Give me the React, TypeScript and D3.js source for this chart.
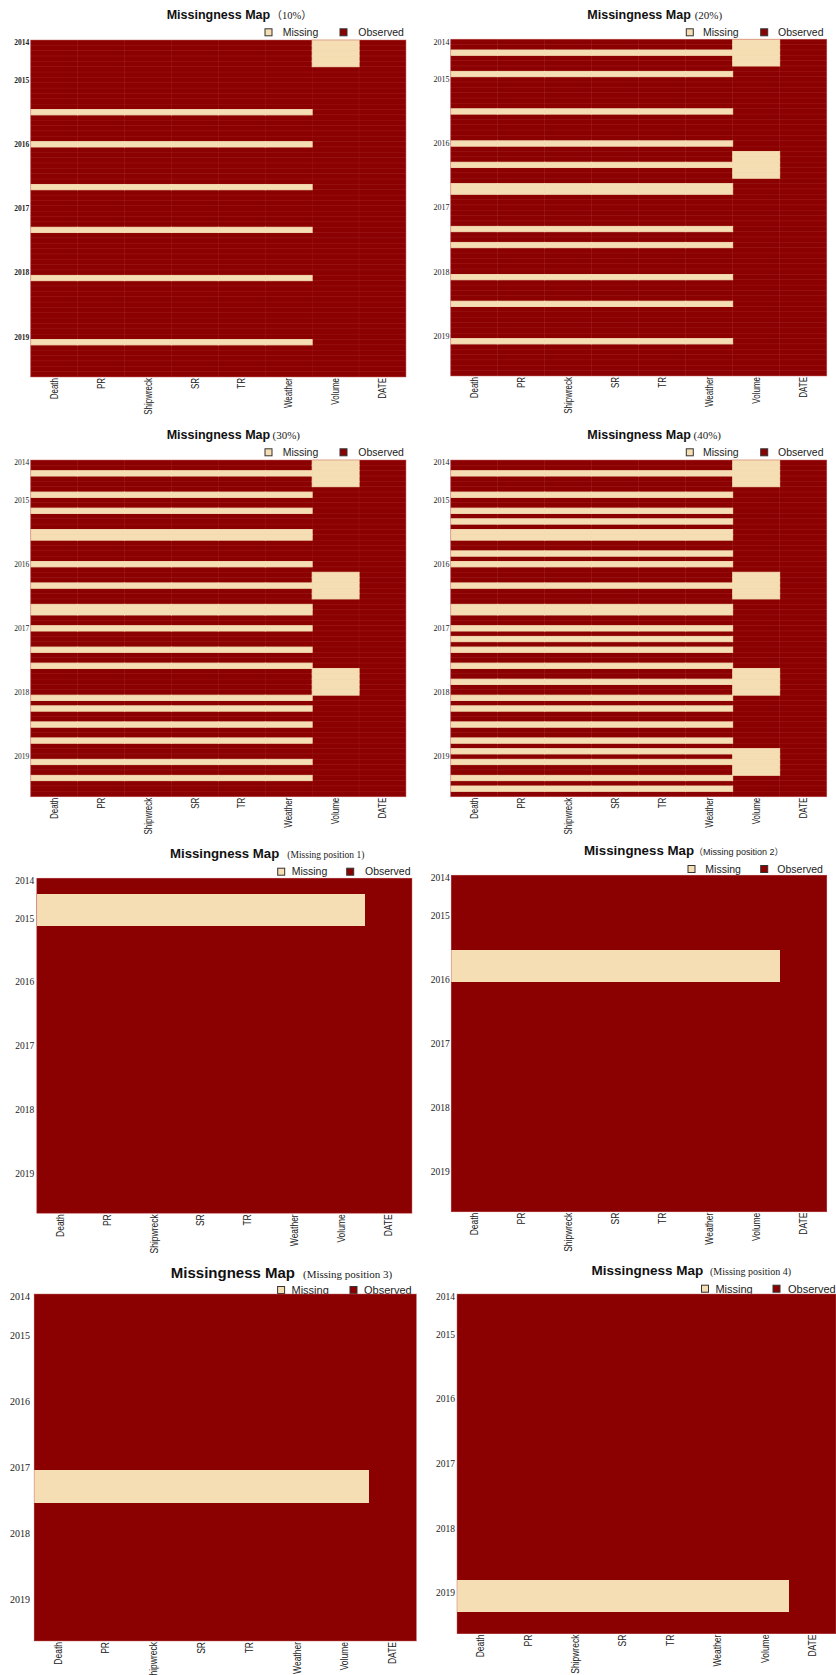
import React from "react";
import * as d3 from "d3";

// Variables (columns) and the monthly row index (Jun 2014 – Aug 2019)
const VARIABLES = ["Death", "PR", "Shipwreck", "SR", "TR", "Weather", "Volume", "DATE"];
const ROW_VARS = ["Death", "PR", "Shipwreck", "SR", "TR", "Weather"];
const BLOCK_VARS = ["Death", "PR", "Shipwreck", "SR", "TR", "Weather", "Volume"];
const VOLUME_VAR = ["Volume"];
const ROW_COUNT = 63;
const YEAR_LABELS = ["2014", "2015", "2016", "2017", "2018", "2019"];
const YEAR_FIRST_ROW = [0, 7, 19, 31, 43, 55];

// Missing rows for the random-missingness scenarios
const MISS10_ROWS = [13, 19, 27, 35, 44, 56];
const MISS10_VOLUME = [0, 1, 2, 3, 4];
const MISS20_ROWS = [2, 6, 13, 19, 23, 27, 28, 35, 38, 44, 49, 56];
const MISS20_VOLUME = [0, 1, 2, 3, 4, 21, 22, 23, 24, 25];
const MISS30_ROWS = [2, 6, 9, 13, 14, 19, 23, 27, 28, 31, 35, 38, 44, 46, 49, 52, 56, 59];
const MISS30_VOLUME = [0, 1, 2, 3, 4, 21, 22, 23, 24, 25, 39, 40, 41, 42, 43];
const MISS40_ROWS = [2, 6, 9, 11, 13, 14, 17, 19, 23, 27, 28, 31, 33, 35, 38, 41, 44, 46, 49, 52, 54, 56, 59, 61];
const MISS40_VOLUME = [0, 1, 2, 3, 4, 21, 22, 23, 24, 25, 39, 40, 41, 42, 43, 54, 55, 56, 57, 58];

// Missing rows for the contiguous-block scenarios
const POS1_ROWS = [3, 4, 5, 6, 7, 8];
const POS2_ROWS = [14, 15, 16, 17, 18, 19];
const POS3_ROWS = [32, 33, 34, 35, 36, 37];
const POS4_ROWS = [53, 54, 55, 56, 57, 58];

const MISSING_COLOR = "#F5DEB3";
const OBSERVED_COLOR = "#8B0000";

type Group = { rows: number[]; cols: string[] };

type Layout = {
  x0: number; x1: number; y0: number; y1: number;
  titleX: number; titleY: number; titleSize: number;
  sub: string; subX: number; subSize: number; subFont: string;
  legendY: number; legendX: number[]; legendSize: number;
  yearRight: number; yearSize: number; yearWeight: number;
  xLabelSize: number; xLabelStretch: number; seams: boolean;
};

const SERIF = "'Liberation Serif', 'Noto Sans CJK SC', serif";
const SANS = "'Liberation Sans', Arial, 'Noto Sans CJK SC', sans-serif";

const PANELS: { groups: Group[]; layout: Layout }[] = [
  {
    groups: [{ rows: MISS10_ROWS, cols: ROW_VARS }, { rows: MISS10_VOLUME, cols: VOLUME_VAR }],
    layout: {
      x0: 30.7, x1: 406, y0: 40, y1: 377,
      titleX: 166.7, titleY: 18.5, titleSize: 12.5,
      sub: "（10%）", subX: 271.5, subSize: 10.5, subFont: SERIF,
      legendY: 32.3, legendX: [265, 282.7, 340, 358.3], legendSize: 10.5,
      yearRight: 29.3, yearSize: 7.5, yearWeight: 700, xLabelSize: 8, xLabelStretch: 1.3, seams: true,
    },
  },
  {
    groups: [{ rows: MISS20_ROWS, cols: ROW_VARS }, { rows: MISS20_VOLUME, cols: VOLUME_VAR }],
    layout: {
      x0: 450.7, x1: 826.7, y0: 39.3, y1: 376,
      titleX: 587.3, titleY: 18.5, titleSize: 12.5,
      sub: "(20%)", subX: 694.7, subSize: 11, subFont: SERIF,
      legendY: 32.3, legendX: [686.3, 703, 760.7, 778], legendSize: 10.5,
      yearRight: 449.5, yearSize: 8, yearWeight: 400, xLabelSize: 8, xLabelStretch: 1.3, seams: true,
    },
  },
  {
    groups: [{ rows: MISS30_ROWS, cols: ROW_VARS }, { rows: MISS30_VOLUME, cols: VOLUME_VAR }],
    layout: {
      x0: 30.7, x1: 406, y0: 460, y1: 796.7,
      titleX: 166.7, titleY: 438.5, titleSize: 12.5,
      sub: "(30%)", subX: 272.5, subSize: 11, subFont: SERIF,
      legendY: 452.3, legendX: [265, 282.7, 340, 358.3], legendSize: 10.5,
      yearRight: 29.3, yearSize: 7.5, yearWeight: 400, xLabelSize: 8, xLabelStretch: 1.3, seams: true,
    },
  },
  {
    groups: [{ rows: MISS40_ROWS, cols: ROW_VARS }, { rows: MISS40_VOLUME, cols: VOLUME_VAR }],
    layout: {
      x0: 450.7, x1: 826.7, y0: 460, y1: 796.7,
      titleX: 587.3, titleY: 438.5, titleSize: 12.5,
      sub: "(40%)", subX: 693.5, subSize: 11, subFont: SERIF,
      legendY: 452.3, legendX: [686.3, 703, 760.7, 778], legendSize: 10.5,
      yearRight: 449.5, yearSize: 8, yearWeight: 400, xLabelSize: 8, xLabelStretch: 1.3, seams: true,
    },
  },
  {
    groups: [{ rows: POS1_ROWS, cols: BLOCK_VARS }],
    layout: {
      x0: 36.7, x1: 412, y0: 878.3, y1: 1213.3,
      titleX: 170, titleY: 858, titleSize: 13.2,
      sub: "(Missing position 1)", subX: 287.3, subSize: 9.5, subFont: SERIF,
      legendY: 871.7, legendX: [277.7, 291.7, 346.7, 365], legendSize: 10.5,
      yearRight: 34.3, yearSize: 9.5, yearWeight: 400, xLabelSize: 8.5, xLabelStretch: 1.2, seams: false,
    },
  },
  {
    groups: [{ rows: POS2_ROWS, cols: BLOCK_VARS }],
    layout: {
      x0: 451.3, x1: 826.7, y0: 875.3, y1: 1211.7,
      titleX: 584, titleY: 855.3, titleSize: 13.3,
      sub: "（Missing position 2）", subX: 694, subSize: 9, subFont: SANS,
      legendY: 869, legendX: [688, 705.3, 760.7, 777.3], legendSize: 10.5,
      yearRight: 449.7, yearSize: 9.5, yearWeight: 400, xLabelSize: 8.5, xLabelStretch: 1.2, seams: false,
    },
  },
  {
    groups: [{ rows: POS3_ROWS, cols: BLOCK_VARS }],
    layout: {
      x0: 34.2, x1: 416.4, y0: 1294, y1: 1641,
      titleX: 170.8, titleY: 1277.5, titleSize: 15,
      sub: "(Missing position 3)", subX: 303, subSize: 11, subFont: SERIF,
      legendY: 1290, legendX: [277.6, 291.5, 350, 364], legendSize: 11,
      yearRight: 30, yearSize: 10, yearWeight: 400, xLabelSize: 8.5, xLabelStretch: 1.2, seams: false,
    },
  },
  {
    groups: [{ rows: POS4_ROWS, cols: BLOCK_VARS }],
    layout: {
      x0: 457, x1: 836, y0: 1294, y1: 1633.6,
      titleX: 591.5, titleY: 1275.3, titleSize: 13.5,
      sub: "(Missing position 4)", subX: 710, subSize: 10, subFont: SERIF,
      legendY: 1288.7, legendX: [701.5, 715.4, 773, 788], legendSize: 11,
      yearRight: 455, yearSize: 9.5, yearWeight: 400, xLabelSize: 8.5, xLabelStretch: 1.2, seams: false,
    },
  },
];

function MissPanel({ groups, layout }: { groups: Group[]; layout: Layout }) {
  const L = layout;
  const x = d3.scaleBand<string>().domain(VARIABLES).range([L.x0, L.x1]).padding(0);
  const y = d3.scaleBand<number>().domain(d3.range(ROW_COUNT)).range([L.y0, L.y1]).padding(0);

  const isMissing = (r: number, v: string) =>
    groups.some((g) => g.rows.includes(r) && g.cols.includes(v));

  const cells: { r: number; v: string; miss: boolean }[] = [];
  for (const r of y.domain()) for (const v of VARIABLES) cells.push({ r, v, miss: isMissing(r, v) });
  // observed cells first so missing cells sit on top of any seam strokes
  cells.sort((a, b) => Number(a.miss) - Number(b.miss));

  const box = 7;
  return (
    <g>
      {/* title */}
      <text x={L.titleX} y={L.titleY} fontFamily={SANS} fontWeight={700} fontSize={L.titleSize} fill="#111">
        Missingness Map
      </text>
      <text x={L.subX} y={L.titleY} fontFamily={L.subFont} fontSize={L.subSize} fill="#222">
        {L.sub}
      </text>

      {/* legend */}
      <rect x={L.legendX[0]} y={L.legendY - box / 2} width={box} height={box} fill={MISSING_COLOR} stroke="#333" strokeWidth={1} />
      <text x={L.legendX[1]} y={L.legendY} dy="0.35em" fontFamily={SANS} fontSize={L.legendSize} fill="#222">Missing</text>
      <rect x={L.legendX[2]} y={L.legendY - box / 2} width={box} height={box} fill={OBSERVED_COLOR} stroke="#333" strokeWidth={1} />
      <text x={L.legendX[3]} y={L.legendY} dy="0.35em" fontFamily={SANS} fontSize={L.legendSize} fill="#222">Observed</text>

      {/* cells */}
      <rect x={L.x0} y={L.y0} width={L.x1 - L.x0} height={L.y1 - L.y0} fill={OBSERVED_COLOR} />
      <g shapeRendering={L.seams ? undefined : "crispEdges"}>
        {cells.map((c) => (
          <rect
            key={`${c.r}-${c.v}`}
            x={x(c.v)}
            y={y(c.r)}
            width={x.bandwidth()}
            height={y.bandwidth()}
            fill={c.miss ? MISSING_COLOR : OBSERVED_COLOR}
            stroke={L.seams ? (c.miss ? MISSING_COLOR : "rgba(255,170,170,0.13)") : "none"}
            strokeWidth={c.miss ? 0.9 : 0.5}
          />
        ))}
      </g>
      <rect x={L.x0} y={L.y0} width={L.x1 - L.x0} height={L.y1 - L.y0} fill="none" stroke="#c86a6a" strokeOpacity={0.6} strokeWidth={0.8} />

      {/* year labels */}
      {YEAR_LABELS.map((lab, i) => (
        <text
          key={lab}
          x={L.yearRight}
          y={(y(YEAR_FIRST_ROW[i]) as number) + y.bandwidth() / 2}
          dy="0.35em"
          textAnchor="end"
          fontFamily={SERIF}
          fontWeight={L.yearWeight}
          fontSize={L.yearSize}
          fill="#222"
        >
          {lab}
        </text>
      ))}

      {/* variable labels */}
      {VARIABLES.map((v) => {
        const cx = (x(v) as number) + x.bandwidth() / 2;
        const cy = L.y1 + 1;
        return (
          <text
            key={v}
            x={0}
            y={0}
            dy="0.35em"
            textAnchor="end"
            transform={`translate(${cx}, ${cy}) rotate(-90) scale(1, ${L.xLabelStretch})`}
            fontFamily={SANS}
            fontSize={L.xLabelSize}
            fill="#222"
          >
            {v}
          </text>
        );
      })}
    </g>
  );
}

export default function App() {
  return (
    <svg
      width={836}
      height={1675}
      viewBox="0 0 836 1675"
      style={{ position: "absolute", left: 0, top: 0, background: "#fff" }}
    >
      <rect x={0} y={0} width={836} height={1675} fill="#fff" />
      {PANELS.map((p, i) => (
        <MissPanel key={i} groups={p.groups} layout={p.layout} />
      ))}
    </svg>
  );
}
